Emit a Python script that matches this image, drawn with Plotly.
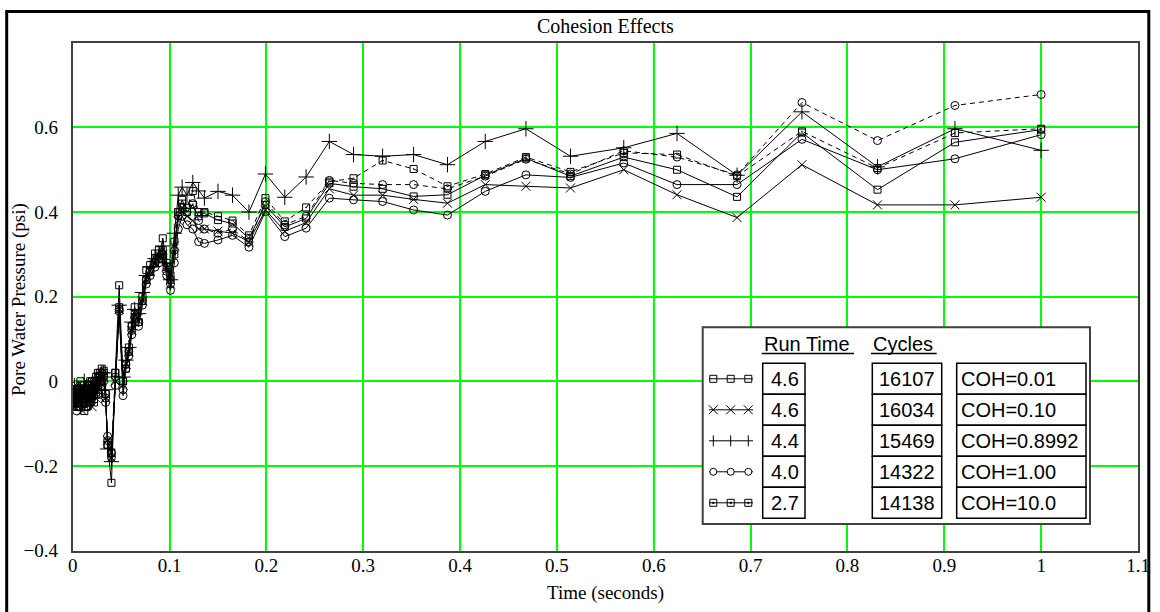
import plotly.graph_objects as go

# ---------------------------------------------------------------- data
time_s = [
    0.000, 0.002, 0.004, 0.006, 0.008, 0.010, 0.012, 0.014, 0.016, 0.018,
    0.020, 0.022, 0.024, 0.026, 0.028, 0.030,
    0.032, 0.034, 0.036, 0.040, 0.044, 0.048, 0.052, 0.055, 0.058, 0.061,
    0.064, 0.068, 0.072, 0.076, 0.080, 0.085, 0.089, 0.093, 0.097, 0.101,
    0.105, 0.109, 0.113, 0.118, 0.124, 0.130,
    0.136, 0.150, 0.165, 0.182, 0.199, 0.219, 0.241, 0.265, 0.290, 0.320,
    0.352, 0.387, 0.426, 0.468, 0.514, 0.569, 0.624, 0.686, 0.753, 0.831,
    0.911, 1.000,
]

p_coh_001 = [
    -0.05, -0.02, -0.06, -0.03, 0.00, -0.05, -0.02, -0.06, -0.01, -0.04,
    0.00, -0.03, 0.01, -0.02, 0.02, 0.00,
    0.025, -0.03, -0.15, -0.24, 0.02, 0.227, 0.00, 0.03, 0.08, 0.13,
    0.175, 0.14, 0.20, 0.263, 0.275, 0.302, 0.29, 0.338, 0.28, 0.25,
    0.30, 0.40, 0.429, 0.40, 0.417, 0.39,
    0.397, 0.381, 0.373, 0.338, 0.417, 0.365, 0.385, 0.468, 0.460, 0.455,
    0.437, 0.441, 0.487, 0.527, 0.485, 0.530, 0.500, 0.436, 0.588, 0.453,
    0.565, 0.595,
]

p_coh_010 = [
    -0.03, -0.06, -0.01, -0.05, -0.02, -0.07, -0.03, 0.00, -0.05, -0.02,
    -0.06, -0.01, -0.04, 0.01, -0.02, 0.01,
    0.01, -0.04, -0.14, -0.18, 0.00, 0.17, -0.01, 0.04, 0.07, 0.12,
    0.16, 0.15, 0.19, 0.24, 0.26, 0.28, 0.30, 0.30, 0.27, 0.23,
    0.32, 0.38, 0.41, 0.39, 0.38, 0.36,
    0.360, 0.355, 0.350, 0.330, 0.405, 0.355, 0.375, 0.455, 0.440, 0.440,
    0.430, 0.421, 0.465, 0.461, 0.457, 0.500, 0.441, 0.387, 0.512, 0.417,
    0.417, 0.435,
]

p_coh_08992 = [
    -0.04, -0.01, -0.05, -0.02, -0.06, -0.03, 0.00, -0.04, -0.02, -0.05,
    -0.01, -0.04, 0.00, -0.01, 0.01, 0.02,
    0.02, -0.02, -0.16, -0.19, 0.01, 0.18, 0.01, 0.05, 0.08, 0.14,
    0.17, 0.16, 0.21, 0.25, 0.27, 0.29, 0.30, 0.32, 0.28, 0.24,
    0.35, 0.44, 0.459, 0.44, 0.470, 0.45,
    0.433, 0.449, 0.440, 0.400, 0.490, 0.435, 0.483, 0.567, 0.536, 0.532,
    0.536, 0.512, 0.567, 0.597, 0.532, 0.552, 0.586, 0.487, 0.637, 0.507,
    0.597, 0.546,
]

p_coh_100 = [
    -0.06, -0.03, -0.07, -0.02, -0.05, -0.01, -0.04, -0.06, -0.02, -0.05,
    -0.03, 0.00, -0.03, 0.00, 0.01, -0.01,
    0.00, -0.05, -0.13, -0.17, -0.01, 0.165, -0.034, 0.03, 0.06, 0.11,
    0.14, 0.13, 0.18, 0.23, 0.25, 0.27, 0.28, 0.30, 0.25, 0.215,
    0.28, 0.36, 0.39, 0.37, 0.36, 0.33,
    0.326, 0.334, 0.345, 0.317, 0.401, 0.342, 0.362, 0.433, 0.429, 0.425,
    0.405, 0.393, 0.449, 0.488, 0.482, 0.516, 0.465, 0.465, 0.572, 0.500,
    0.526, 0.583,
]

p_coh_100_alt = [
    -0.05, -0.04, -0.02, -0.06, -0.03, -0.02, -0.05, -0.03, -0.06, -0.01,
    -0.04, -0.02, 0.00, -0.03, 0.01, 0.02,
    0.01, -0.04, -0.14, -0.18, 0.01, 0.17, -0.02, 0.04, 0.07, 0.12,
    0.15, 0.14, 0.19, 0.24, 0.26, 0.28, 0.29, 0.30, 0.26, 0.23,
    0.31, 0.39, 0.41, 0.40, 0.42, 0.38,
    0.360, 0.350, 0.360, 0.330, 0.425, 0.370, 0.390, 0.475, 0.468, 0.465,
    0.465, 0.455, 0.485, 0.525, 0.490, 0.545, 0.530, 0.488, 0.659, 0.569,
    0.652, 0.678,
]

p_coh_10 = [
    -0.02, -0.05, -0.03, -0.06, -0.01, -0.04, -0.07, -0.02, -0.04, 0.00,
    -0.03, -0.05, -0.01, 0.02, 0.00, 0.03,
    0.02, -0.03, -0.15, -0.17, 0.02, 0.175, 0.00, 0.04, 0.07, 0.13,
    0.16, 0.14, 0.19, 0.24, 0.26, 0.29, 0.31, 0.31, 0.27, 0.24,
    0.33, 0.40, 0.42, 0.41, 0.45, 0.40,
    0.400, 0.390, 0.380, 0.345, 0.433, 0.378, 0.411, 0.472, 0.480, 0.522,
    0.502, 0.461, 0.490, 0.530, 0.495, 0.540, 0.536, 0.485, 0.591, 0.504,
    0.587, 0.597,
]

legend_run_time = ["4.6", "4.6", "4.4", "4.0", "2.7"]
legend_cycles = ["16107", "16034", "15469", "14322", "14138"]
legend_labels = ["COH=0.01", "COH=0.10", "COH=0.8992", "COH=1.00", "COH=10.0"]

x_ticks = [0, 0.1, 0.2, 0.3, 0.4, 0.5, 0.6, 0.7, 0.8, 0.9, 1.0, 1.1]
y_ticks = [-0.4, -0.2, 0, 0.2, 0.4, 0.6]

# ---------------------------------------------------------------- geometry
W, H = 1160, 612
PL, PR, PT, PB = 72.7, 1138.0, 43.3, 550.5   # plot frame in pixels


def fx(px):
    return px / W


def fy(py):
    return 1 - py / H


SERIF = "Liberation Serif, Times New Roman, serif"
SANS = "Liberation Sans, Arial, sans-serif"

fig = go.Figure()

series = [
    (p_coh_001, "COH=0.01", "square-open", 7, "solid"),
    (p_coh_010, "COH=0.10", "x-thin-open", 9, "solid"),
    (p_coh_08992, "COH=0.8992", "cross-thin-open", 11, "solid"),
    (p_coh_100, "COH=1.00", "circle-open", 8, "solid"),
    (p_coh_100_alt, "COH=1.00 b", "circle-open", 8, "5px,4px"),
    (p_coh_10, "COH=10.0", "square-open-dot", 7, "5px,4px"),
]
for vals, name, sym, size, dash in series:
    fig.add_trace(go.Scatter(
        x=time_s, y=vals, name=name, mode="lines+markers",
        line=dict(color="black", width=1, dash=dash),
        marker=dict(symbol=sym, size=size, color="black",
                    line=dict(color="black", width=1)),
        showlegend=False, hoverinfo="skip",
    ))

axis_common = dict(
    showgrid=True, gridcolor="#00FF00", gridwidth=1.5,
    showline=True, mirror=True, linecolor="#404040", linewidth=2,
    zeroline=False, ticks="", automargin=False,
    tickfont=dict(family=SERIF, size=19, color="black"),
)
fig.update_layout(
    width=W, height=H, autosize=False,
    margin=dict(l=0, r=0, t=0, b=0),
    paper_bgcolor="white", plot_bgcolor="white",
    showlegend=False,
    xaxis=dict(domain=[fx(PL), fx(PR)], range=[0, 1.1],
               tickvals=x_ticks, ticklabelstandoff=-3, **axis_common),
    yaxis=dict(domain=[fy(PB), fy(PT)], range=[-0.4, 0.799],
               tickvals=y_ticks, ticklabelstandoff=9, **axis_common),
)

shapes = []
annotations = []

# outer frame (its lower edge runs past the bottom of the page)
shapes.append(dict(type="rect", xref="paper", yref="paper",
                   x0=fx(6.7), x1=fx(1148.8), y0=fy(616), y1=fy(11.5),
                   line=dict(color="black", width=3), layer="above"))

# titles
annotations.append(dict(text="Cohesion Effects", x=fx(605), y=fy(26),
                        xref="paper", yref="paper", showarrow=False,
                        xanchor="center", yanchor="middle",
                        font=dict(family=SERIF, size=20, color="black")))
annotations.append(dict(text="Time (seconds)", x=fx(605), y=fy(593),
                        xref="paper", yref="paper", showarrow=False,
                        xanchor="center", yanchor="middle",
                        font=dict(family=SERIF, size=19, color="black")))
annotations.append(dict(text="Pore Water Pressure (psi)", x=fx(19), y=fy(300),
                        xref="paper", yref="paper", showarrow=False,
                        textangle=-90, xanchor="center", yanchor="middle",
                        font=dict(family=SERIF, size=19, color="black")))

# legend table
LX0, LX1, LY0, LY1 = 702.7, 1090.0, 327.3, 524.0
shapes.append(dict(type="rect", xref="paper", yref="paper",
                   x0=fx(LX0), x1=fx(LX1), y0=fy(LY1), y1=fy(LY0),
                   fillcolor="white", line=dict(color="#404040", width=2),
                   layer="above"))

HEAD_Y = 343.5
annotations.append(dict(text="Run Time", x=fx(761.5), y=fy(HEAD_Y),
                        xref="paper", yref="paper", showarrow=False,
                        xanchor="left", yanchor="middle",
                        font=dict(family=SANS, size=20, color="black")))
annotations.append(dict(text="Cycles", x=fx(870.5), y=fy(HEAD_Y),
                        xref="paper", yref="paper", showarrow=False,
                        xanchor="left", yanchor="middle",
                        font=dict(family=SANS, size=20, color="black")))
for ux0, ux1 in [(761.7, 854.0), (871.0, 936.7)]:
    shapes.append(dict(type="line", xref="paper", yref="paper",
                       x0=fx(ux0), x1=fx(ux1), y0=fy(353.5), y1=fy(353.5),
                       line=dict(color="black", width=1.5), layer="above"))

ROW_TOP, ROW_H = 363.3, 31.0
cols = [(762.7, 805.0), (872.3, 941.7), (956.7, 1086.0)]
sample_x = [713.3, 730.7, 748.3]
kinds = ["square", "x", "cross", "circle", "square-dot"]


def line_shape(x0, y0, x1, y1, w=1.0):
    return dict(type="line", xref="paper", yref="paper",
                x0=fx(x0), x1=fx(x1), y0=fy(y0), y1=fy(y1),
                line=dict(color="black", width=w), layer="above")


for i in range(5):
    top = ROW_TOP + i * ROW_H
    bot = top + ROW_H
    cy = (top + bot) / 2
    for cx0, cx1 in cols:
        shapes.append(dict(type="rect", xref="paper", yref="paper",
                           x0=fx(cx0), x1=fx(cx1), y0=fy(bot), y1=fy(top),
                           line=dict(color="black", width=1.5),
                           layer="above"))
    annotations.append(dict(text=legend_run_time[i], x=fx(768.5), y=fy(cy),
                            xref="paper", yref="paper", showarrow=False,
                            xanchor="left", yanchor="middle",
                            font=dict(family=SANS, size=20, color="black")))
    annotations.append(dict(text=legend_cycles[i], x=fx(907.0), y=fy(cy),
                            xref="paper", yref="paper", showarrow=False,
                            xanchor="center", yanchor="middle",
                            font=dict(family=SANS, size=20, color="black")))
    annotations.append(dict(text=legend_labels[i], x=fx(958.5), y=fy(cy),
                            xref="paper", yref="paper", showarrow=False,
                            xanchor="left", yanchor="middle",
                            font=dict(family=SANS, size=20, color="black")))

    # line sample with three symbols
    shapes.append(line_shape(709, cy, 753, cy))
    kind = kinds[i]
    for sx in sample_x:
        if kind in ("square", "square-dot"):
            shapes.append(dict(type="rect", xref="paper", yref="paper",
                               x0=fx(sx - 3.5), x1=fx(sx + 3.5),
                               y0=fy(cy + 3.5), y1=fy(cy - 3.5),
                               line=dict(color="black", width=1),
                               layer="above"))
            if kind == "square-dot":
                shapes.append(dict(type="rect", xref="paper", yref="paper",
                                   x0=fx(sx - 0.8), x1=fx(sx + 0.8),
                                   y0=fy(cy + 0.8), y1=fy(cy - 0.8),
                                   fillcolor="black",
                                   line=dict(color="black", width=0.5),
                                   layer="above"))
        elif kind == "x":
            shapes.append(line_shape(sx - 4.5, cy - 4.5, sx + 4.5, cy + 4.5))
            shapes.append(line_shape(sx - 4.5, cy + 4.5, sx + 4.5, cy - 4.5))
        elif kind == "cross":
            shapes.append(line_shape(sx, cy - 5.5, sx, cy + 5.5))
        elif kind == "circle":
            shapes.append(dict(type="circle", xref="paper", yref="paper",
                               x0=fx(sx - 3.5), x1=fx(sx + 3.5),
                               y0=fy(cy + 3.5), y1=fy(cy - 3.5),
                               fillcolor="white",
                               line=dict(color="black", width=1),
                               layer="above"))

fig.update_layout(shapes=shapes, annotations=annotations)

# page body without default margins so the figure fills the window exactly
fig.write_html(
    "out.html",
    config={"displayModeBar": False},
    post_script="document.body.style.margin='0';"
                "document.body.style.overflow='hidden';",
)
